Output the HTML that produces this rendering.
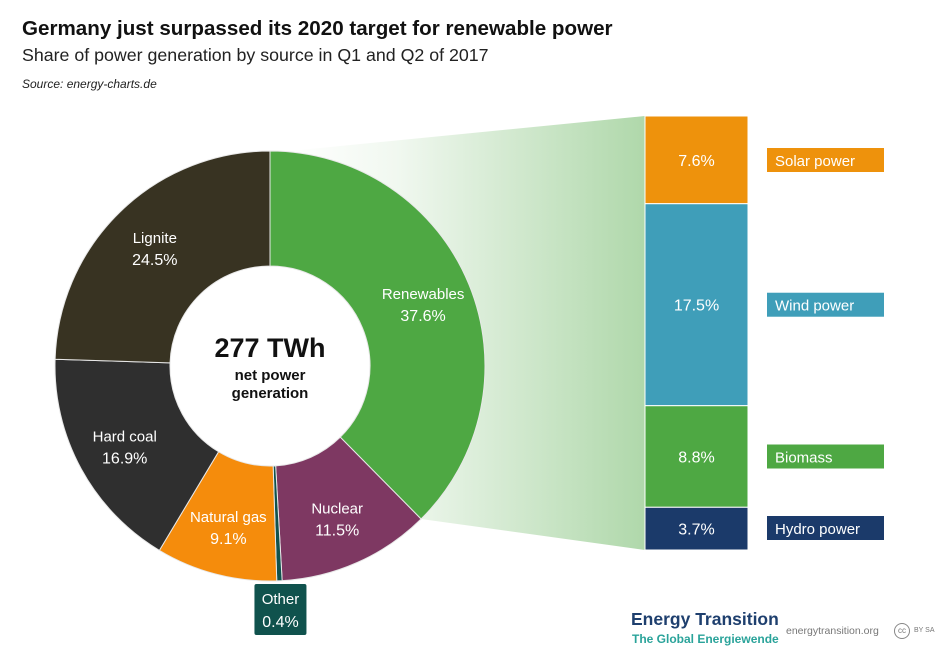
<!DOCTYPE html>
<html><head><meta charset="utf-8"><style>
body{margin:0;background:#fff;font-family:"Liberation Sans","DejaVu Sans",sans-serif;}
#wrap{position:relative;width:946px;height:662px;overflow:hidden;background:#fff;}
.t{position:absolute;white-space:nowrap;}
</style></head><body>
<div id="wrap">
<div class="t" style="left:22px;top:17px;font-size:20.6px;font-weight:bold;color:#111;">Germany just surpassed its 2020 target for renewable power</div>
<div class="t" style="left:22px;top:45px;font-size:17.8px;color:#222;">Share of power generation by source in Q1 and Q2 of 2017</div>
<div class="t" style="left:22px;top:77px;font-size:12px;font-style:italic;color:#222;">Source: energy-charts.de</div>
<svg id="svg" width="946" height="662" style="position:absolute;left:0;top:0">
<defs><linearGradient id="fade" x1="0" x2="1" y1="0" y2="0"><stop offset="0" stop-color="#4ea843" stop-opacity="0"/><stop offset="0.3" stop-color="#4ea843" stop-opacity="0.08"/><stop offset="1" stop-color="#4ea843" stop-opacity="0.45"/></linearGradient></defs>
</svg>
<div class="t" style="left:170px;top:333px;width:200px;text-align:center;font-size:27px;font-weight:bold;color:#111;">277 TWh</div>
<div class="t" style="left:170px;top:367px;width:200px;text-align:center;font-size:15px;font-weight:bold;color:#111;line-height:18px;">net power<br>generation</div>
<div class="t" style="left:631px;top:609px;font-size:17.5px;font-weight:bold;color:#1e3f6e;">Energy Transition</div>
<div class="t" style="left:632px;top:632px;font-size:12px;font-weight:bold;color:#2aa39a;">The Global Energiewende</div>
<div class="t" style="left:786px;top:625px;font-size:10.5px;color:#777;">energytransition.org</div>
<div class="t" style="left:894px;top:623px;width:14px;height:14px;border:1.5px solid #888;border-radius:50%;font-size:8px;color:#777;text-align:center;line-height:14px;">cc</div>
<div class="t" style="left:914px;top:627px;font-size:7px;color:#777;">BY SA</div>
</div>
<script>
const categories=["Renewables","Nuclear","Other","Natural gas","Hard coal","Lignite"];
const shares=[37.6,11.5,0.4,9.1,16.9,24.5];
const colors=["#4ea843","#7e3862","#10524d","#f58c0c","#2f2f2f","#383322"];
const subCategories=["Solar power","Wind power","Biomass","Hydro power"];
const subShares=[7.6,17.5,8.8,3.7];
const subColors=["#ee920c","#3f9eb9","#4ea843","#1b3a6a"];
const NS="http://www.w3.org/2000/svg";
const svg=document.getElementById("svg");
const cx=270,cy=366,R=215,r=100;
function mk(t,a){const e=document.createElementNS(NS,t);for(const k in a)e.setAttribute(k,a[k]);return e;}
function pt(frac,rad){const a=frac*2*Math.PI-Math.PI/2;return [cx+rad*Math.cos(a),cy+rad*Math.sin(a)];}
const total=shares.reduce((a,b)=>a+b,0);
const subTotal=subShares.reduce((a,b)=>a+b,0);
const barX=645,barW=103,barTop=116,barBot=550;
function by(v){return barTop+v/subTotal*(barBot-barTop);}
const rEnd=pt(shares[0]/total,R);
const wedge=mk("polygon",{points:`${cx+20},${cy-R} ${barX},${barTop} ${barX},${barBot} ${rEnd[0]},${rEnd[1]}`,fill:"url(#fade)"});


svg.appendChild(wedge);
const hole=mk("circle",{cx:cx,cy:cy,r:r,fill:"#fff"});


svg.appendChild(hole);
let acc=0;
shares.forEach((v,i)=>{
  const f0=acc/total,f1=(acc+v)/total;acc+=v;
  const [x0,y0]=pt(f0,R),[x1,y1]=pt(f1,R),[x2,y2]=pt(f1,r),[x3,y3]=pt(f0,r);
  const lg=(f1-f0)>0.5?1:0;
  const p=mk("path",{d:`M${x0},${y0}A${R},${R} 0 ${lg} 1 ${x1},${y1}L${x2},${y2}A${r},${r} 0 ${lg} 0 ${x3},${y3}Z`,fill:colors[i],stroke:"#e8e8e8","stroke-width":1});
  
  
  svg.appendChild(p);
  if(categories[i]!=="Other"){
    const [lx,ly]=pt((f0+f1)/2,(R+r)/2+8);
    const t=mk("text",{x:lx,y:ly-4,"text-anchor":"middle",fill:"#fff","font-size":15});
    t.textContent=categories[i];
    
    
    const t2=mk("text",{x:lx,y:ly+18,"text-anchor":"middle",fill:"#fff","font-size":16});
    t2.textContent=v.toFixed(1)+"%";
    
    
    svg.appendChild(t);svg.appendChild(t2);
  } else {
    const [ox]=pt((f0+f1)/2,R);
    const g=mk("rect",{x:ox-25,y:584,width:52,height:51,fill:"#10524d",rx:2});
    
    
    svg.appendChild(g);
    const t=mk("text",{x:ox+1,y:604,"text-anchor":"middle",fill:"#fff","font-size":15});
    t.textContent="Other";
    
    
    const t2=mk("text",{x:ox+1,y:627,"text-anchor":"middle",fill:"#fff","font-size":16});
    t2.textContent=v.toFixed(1)+"%";
    
    
    svg.appendChild(t);svg.appendChild(t2);
  }
});
let sacc=0;
subShares.forEach((v,i)=>{
  const y0=by(sacc),y1=by(sacc+v);sacc+=v;
  const rc=mk("rect",{x:barX,y:y0,width:barW,height:y1-y0,fill:subColors[i],stroke:"#fff","stroke-width":1});
  
  
  svg.appendChild(rc);
  const ym=(y0+y1)/2;
  const t=mk("text",{x:barX+barW/2,y:ym+6,"text-anchor":"middle",fill:"#fff","font-size":16});
  t.textContent=v.toFixed(1)+"%";
  
  
  svg.appendChild(t);
  const ly=i===0?148:i===3?516:ym-12;
  const lb=mk("rect",{x:767,y:ly,width:117,height:24,fill:subColors[i]});
  
  
  svg.appendChild(lb);
  const lt=mk("text",{x:775,y:ly+18,fill:"#fff","font-size":15});
  lt.textContent=subCategories[i];
  
  
  svg.appendChild(lt);
});
</script>
</body></html>
